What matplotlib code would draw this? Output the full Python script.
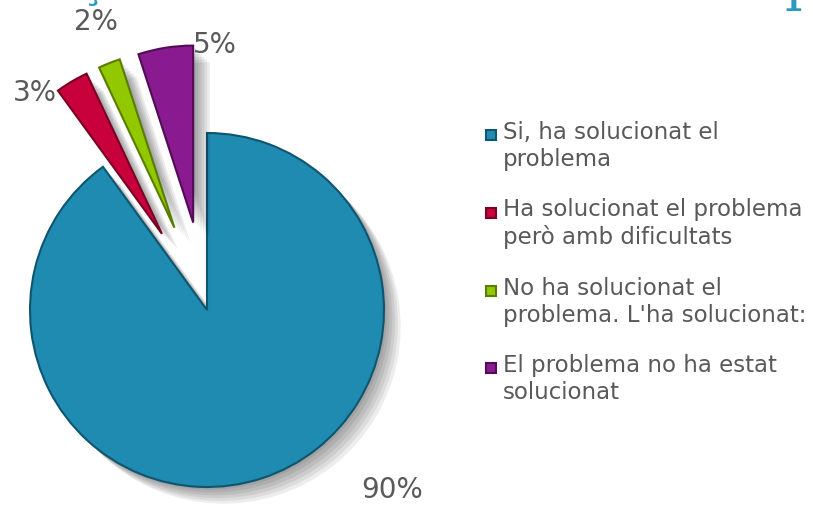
import matplotlib
matplotlib.use("Agg")
import matplotlib.pyplot as plt
import matplotlib.patheffects as pe
from matplotlib.patches import Rectangle, Wedge
from matplotlib.legend_handler import HandlerPatch

labels = ["Si, ha solucionat el\nproblema",
          "Ha solucionat el problema\nperò amb dificultats",
          "No ha solucionat el\nproblema. L'ha solucionat:",
          "El problema no ha estat\nsolucionat"]
values = [90, 3, 2, 5]
explode = [0, 0.5, 0.5, 0.5]
colors = ['#1f8bb0', '#c8003c', '#92c800', '#8a1a90']
edges = ['#0e5570', '#7a0024', '#5a7d00', '#520c56']
# Blue, Red, Green, Purple

W, H = 813, 507
R = 177.0           # pie radius in px
CX, CY = 207, 310   # pie centre in px (from top)

fig = plt.figure(figsize=(W / 100, H / 100), dpi=100)
ax = fig.add_axes([0, 0, 1, 1])

# soft drop shadow: a few stacked offsets
shadow = [pe.SimplePatchShadow(offset=(o, -o), shadow_rgbFace='k', alpha=0.07)
          for o in (2, 4, 6, 8, 10, 12)]

wedges, _ = ax.pie(values, colors=colors, explode=explode, startangle=90,
                   counterclock=False, radius=1,
                   wedgeprops=dict(linewidth=1.5))
for w, ec in zip(wedges, edges):
    w.set_edgecolor(ec)
    w.set_path_effects(shadow + [pe.Normal()])

# axes in units of the pie radius, so 1 unit = R px
ax.set_xlim(-CX / R, (W - CX) / R)
ax.set_ylim(-(H - CY) / R, CY / R)
ax.set_aspect('equal')
ax.axis('off')

# percentage labels
pct_pos = [(392, 490), (35, 93), (96, 22), (215, 45)]
for v, (px, py) in zip(values, pct_pos):
    fig.text(px / W, 1 - py / H, f"{v}%", fontsize=20, color='#595959',
             ha='center', va='center')

# fragments of the title cut off at the top of the picture
fig.text(93 / W, 1 + 2 / H, "ç", fontsize=30, color='#2a9ac0',
         family='DejaVu Serif', ha='center', va='baseline')
fig.text(802 / W, 1 + 1 / H, "p", fontsize=40, color='#2a9ac0',
         family='DejaVu Serif', ha='center', va='baseline')


def top_square(legend, orig_handle, xdescent, ydescent, width, height, fontsize):
    # small square next to the first line of a two-line label
    return Rectangle((-xdescent, -ydescent + height - width * 1.15), width, width)


leg = fig.legend(wedges, labels, loc='upper left',
                 bbox_to_anchor=(486 / W, 1 - 121 / H),
                 frameon=False, fontsize=16.5, labelcolor='#595959',
                 handlelength=0.45, handleheight=2.2, handletextpad=0.28,
                 labelspacing=1.19, borderpad=0, borderaxespad=0,
                 handler_map={Wedge: HandlerPatch(patch_func=top_square)})
for t in leg.get_texts():
    t.set_linespacing(1.22)
for h in leg.legend_handles:
    h.set_path_effects([])

fig.savefig("out.png", dpi=100)
